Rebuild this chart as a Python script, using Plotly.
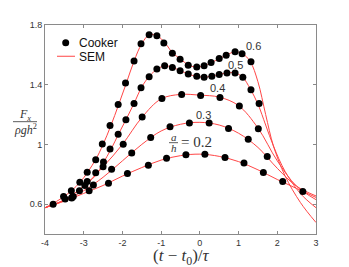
import plotly.graph_objects as go

# ---- data ----
x_ticks = [-4, -3, -2, -1, 0, 1, 2, 3]
y_ticks = [0.6, 1.0, 1.4, 1.8]
y_tick_text = ["0.6", "1", "1.4", "1.8"]

ratios = ["0.2", "0.3", "0.4", "0.5", "0.6"]

# SEM curves (read at several abscissae)
sem_x_fine = [-4, -3.5, -3.1, -2.7, -2.5, -2.3, -2.1, -1.9, -1.7, -1.5, -1.3, -1.1, -0.9, -0.7,
              -0.5, -0.3, -0.1, 0.1, 0.3, 0.5, 0.7, 0.9, 1.1, 1.3, 1.5, 1.7, 1.9, 2.2, 2.6, 3.0]
sem06_y = [0.576, 0.652, 0.745, 0.895, 1.0, 1.125, 1.265, 1.41, 1.558, 1.675, 1.735, 1.728, 1.68, 1.612,
           1.572, 1.533, 1.518, 1.527, 1.548, 1.575, 1.600, 1.620, 1.608, 1.556, 1.42, 1.20, 0.99, 0.79, 0.61, 0.477]
sem05_y = [0.576, 0.628, 0.700, 0.790, 0.875, 0.965, 1.07, 1.17, 1.275, 1.385, 1.458, 1.505, 1.527, 1.515,
           1.494, 1.472, 1.456, 1.451, 1.457, 1.468, 1.479, 1.479, 1.452, 1.373, 1.27, 1.13, 0.99, 0.82, 0.67, 0.576]
sem_x = [-4, -3.5, -3, -2.5, -2, -1.5, -1, -0.5, 0, 0.5, 1, 1.5, 2, 2.5, 3]
sem04_y = [0.576, 0.63, 0.72, 0.85, 1.0, 1.18, 1.305, 1.335, 1.33, 1.317, 1.26, 1.11, 0.89, 0.72, 0.63]
sem03_y = [0.576, 0.625, 0.69, 0.78, 0.89, 1.0, 1.09, 1.135, 1.148, 1.13, 1.075, 0.98, 0.84, 0.72, 0.655]
sem02_y = [0.576, 0.62, 0.672, 0.725, 0.788, 0.845, 0.895, 0.925, 0.935, 0.92, 0.885, 0.83, 0.765, 0.705, 0.645]

# Cooker points
c06_x = [-3.52, -3.32, -3.10, -2.91, -2.69, -2.52, -2.32, -2.11, -1.92, -1.70, -1.52, -1.31, -1.11,
         -0.93, -0.71, -0.51, -0.30, -0.08, 0.11, 0.29, 0.50, 0.68, 0.91, 1.09, 1.32]
c06_y = [0.652, 0.690, 0.746, 0.814, 0.897, 1.003, 1.127, 1.267, 1.411, 1.559, 1.675, 1.734, 1.728,
         1.680, 1.610, 1.570, 1.531, 1.518, 1.527, 1.548, 1.575, 1.597, 1.621, 1.608, 1.553]
c05_x = [-3.30, -3.11, -2.91, -2.69, -2.49, -2.32, -2.11, -1.91, -1.70, -1.52, -1.31, -1.11, -0.91,
         -0.71, -0.51, -0.30, -0.08, 0.11, 0.31, 0.50, 0.70, 0.91, 1.11, 1.32, 1.53]
c05_y = [0.646, 0.690, 0.751, 0.810, 0.882, 0.969, 1.068, 1.166, 1.275, 1.380, 1.454, 1.505, 1.527,
         1.516, 1.494, 1.472, 1.457, 1.450, 1.457, 1.468, 1.479, 1.479, 1.450, 1.367, 1.275]
c04_x = [-3.48, -2.97, -2.50, -1.98, -1.49, -0.98, -0.47, 0.02, 0.52, 1.02, 1.51]
c04_y = [0.635, 0.725, 0.850, 1.002, 1.184, 1.308, 1.335, 1.328, 1.315, 1.258, 1.105]
c03_x = [-3.27, -2.75, -2.28, -1.76, -1.27, -0.77, -0.27, 0.24, 0.74, 1.25, 1.74]
c03_y = [0.652, 0.729, 0.834, 0.943, 1.046, 1.118, 1.144, 1.144, 1.107, 1.035, 0.919]
c02_x = [-3.79, -3.31, -2.86, -2.36, -1.87, -1.33, -0.86, -0.36, 0.13, 0.65, 1.14, 1.64, 2.14, 2.66]
c02_y = [0.600, 0.641, 0.690, 0.740, 0.805, 0.860, 0.908, 0.931, 0.934, 0.913, 0.875, 0.812, 0.751, 0.685]

sem_series = [(sem_x, sem02_y), (sem_x, sem03_y), (sem_x, sem04_y),
              (sem_x_fine, sem05_y), (sem_x_fine, sem06_y)]
cooker_series = [(c02_x, c02_y), (c03_x, c03_y), (c04_x, c04_y), (c05_x, c05_y), (c06_x, c06_y)]

RED = "rgb(255,70,70)"
fig = go.Figure()
for r, (sx, sy) in zip(ratios, sem_series):
    fig.add_trace(go.Scatter(x=sx, y=sy, mode="lines", name="SEM a/h=" + r,
                             line=dict(color=RED, width=1, shape="spline", smoothing=1.0),
                             showlegend=False, hoverinfo="skip"))
for r, (cx, cy) in zip(ratios, cooker_series):
    fig.add_trace(go.Scatter(x=cx, y=cy, mode="markers", name="Cooker a/h=" + r,
                             marker=dict(color="black", size=7),
                             showlegend=False))

# page has an 8px body margin: figure is offset by 8px in the window
OFF = 8
W, H = 349 - OFF, 267 - OFF
# plot area in window pixels: x 45..316, y 20..234
L, T = 45 - OFF, 20 - OFF
R = W - (316 - OFF)
B = H - (234 - OFF)
PW, PH = W - L - R, H - T - B


def px(x):
    return (x - OFF - L) / PW


def py(y):
    return (T + PH - (y - OFF)) / PH


def note(text, x, y, family, size, color="#333", xanchor="center"):
    return dict(text=text, x=px(x), y=py(y), xref="paper", yref="paper", showarrow=False,
                xanchor=xanchor, yanchor="middle", font=dict(family=family, size=size, color=color))


sans = "Liberation Sans, Arial, Helvetica, sans-serif"
serif = "Liberation Serif, DejaVu Serif, serif"
annotations = []
# curve labels
for txt, (ax, ay) in zip(["0.6", "0.5", "0.4", "0.3"], [(253, 42), (235, 61), (217, 85), (203, 112)]):
    annotations.append(note(txt, ax, ay, sans, 11))
# a/h = 0.2
annotations += [
    note("<i>a</i>", 173.5, 135, serif, 11),
    note("<i>h</i>", 173.5, 146, serif, 11),
    note("= 0.2", 179, 140, serif, 15, xanchor="left"),
]
# y title fraction
annotations += [
    note("<i>F</i><sub><i>x</i></sub>", 25, 112, serif, 12),
    note("<i>ρgh</i><sup>2</sup>", 25, 126.5, serif, 12),
]
# x title
annotations.append(note("(<i>t</i> − <i>t</i><sub>0</sub>)/<i>τ</i>", 181, 257.5, serif, 17))
# legend texts
annotations += [
    note("Cooker", 77, 38.5, sans, 12, color="#111", xanchor="left"),
    note("SEM", 77, 52.5, sans, 12, color="#111", xanchor="left"),
]

shapes = [
    dict(type="line", xref="paper", yref="paper", x0=px(169), x1=px(178), y0=py(140.5), y1=py(140.5),
         line=dict(color="#333", width=0.8)),
    dict(type="line", xref="paper", yref="paper", x0=px(13), x1=px(37), y0=py(119), y1=py(119),
         line=dict(color="#333", width=0.8)),
    dict(type="circle", xref="paper", yref="paper", xsizemode="pixel", ysizemode="pixel",
         xanchor=px(65.7), yanchor=py(38.3), x0=-3.5, x1=3.5, y0=-3.5, y1=3.5,
         fillcolor="black", line=dict(color="black", width=0)),
    dict(type="line", xref="paper", yref="paper", x0=px(57), x1=px(75), y0=py(52), y1=py(52),
         line=dict(color=RED, width=1)),
]

axis_common = dict(showgrid=False, zeroline=False, showline=True, linecolor="#8a8a8a", linewidth=1,
                   mirror="ticks", ticks="inside", ticklen=3, tickcolor="#8a8a8a",
                   tickfont=dict(family=sans, size=9, color="#333"))

fig.update_layout(
    width=W, height=H, margin=dict(l=L, r=R, t=T, b=B),
    paper_bgcolor="white", plot_bgcolor="white",
    xaxis=dict(range=[-4, 3], tickvals=x_ticks, ticktext=[str(v) for v in x_ticks], **axis_common),
    yaxis=dict(range=[0.4, 1.8], tickvals=y_ticks, ticktext=y_tick_text, **axis_common),
    annotations=annotations, shapes=shapes, showlegend=False,
)

fig.write_html("out.html")
